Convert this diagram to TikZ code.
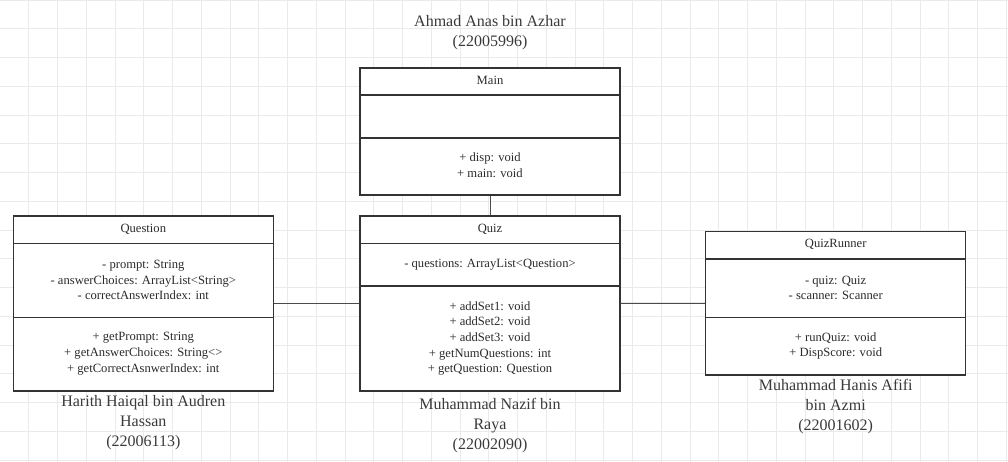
\documentclass[tikz,border=0pt]{standalone}
\usepackage{fontspec}
\setmainfont{Liberation Serif}
\definecolor{gridc}{HTML}{EAEAEA}
\definecolor{boxc}{HTML}{333333}
\definecolor{txtc}{HTML}{2B2B2B}
\definecolor{namec}{HTML}{3A3A3A}
\definecolor{linkc}{HTML}{4A4A4A}
\tikzset{
  umlbox/.style={draw=boxc, line width=1.4pt, fill=white, inner sep=0pt, minimum width=260pt},
  divider/.style={draw=boxc, line width=1.4pt},
  member/.style={text=txtc, align=center, inner sep=0pt, font=\fontsize{12.6}{15.7}\selectfont},
  person/.style={text=namec, align=center, inner sep=0pt, font=\fontsize{16}{20}\selectfont},
  link/.style={draw=linkc, line width=1pt}
}
\begin{document}
\begin{tikzpicture}[x=1pt,y=-1pt]
\useasboundingbox (0,0) rectangle (1008,462);
\fill[white] (0,0) rectangle (1008,462);
\foreach \k in {1,...,35} {\draw[gridc, line width=0.8pt] (\k*28.75,0) -- (\k*28.75,462);}
\foreach \k in {0,...,16} {\draw[gridc, line width=0.8pt] (0,\k*28.75) -- (1008,\k*28.75);}

% boxes
\node[umlbox, minimum height=127pt] (main) at (490,131.5) {};
\node[umlbox, minimum height=175pt] (quiz) at (490,303.5) {};
\node[umlbox, minimum height=175pt] (question) at (143.3,303.5) {};
\node[umlbox, minimum height=143.3pt] (runner) at (835.7,303.3) {};

% connectors
\draw[link] (main.south) -- (quiz.north);
\draw[link] (question.east) -- (quiz.west);
\draw[link] (quiz.east) -- (runner.west);

% dividers
\draw[divider] (main.west |- 0,95) -- (main.east |- 0,95);
\draw[divider] (main.west |- 0,138) -- (main.east |- 0,138);
\draw[divider] (quiz.west |- 0,243.3) -- (quiz.east |- 0,243.3);
\draw[divider] (quiz.west |- 0,286) -- (quiz.east |- 0,286);
\draw[divider] (question.west |- 0,243.3) -- (question.east |- 0,243.3);
\draw[divider] (question.west |- 0,317.3) -- (question.east |- 0,317.3);
\draw[divider] (runner.west |- 0,259) -- (runner.east |- 0,259);
\draw[divider] (runner.west |- 0,317.3) -- (runner.east |- 0,317.3);

% Main texts
\node[member] (mainT) at (490,80.5) {Main};
\node[member] (mainM) at (490,165.5) {+ disp: void\\+ main: void};

% Quiz texts
\node[member] (quizT) at (490,229.5) {Quiz};
\node[member] (quizA) at (490,264.5) {- questions: ArrayList<Question>};
\node[member] (quizM) at (490,338.5) {+ addSet1: void\\+ addSet2: void\\+ addSet3: void\\+ getNumQuestions: int\\+ getQuestion: Question};

% Question texts
\node[member] (qT) at (143.3,229.5) {Question};
\node[member] (qA) at (143.3,280) {- prompt: String\\- answerChoices: ArrayList<String>\\- correctAnswerIndex: int};
\node[member] (qM) at (143.3,353.5) {+ getPrompt: String\\+ getAnswerChoices: String<>\\+ getCorrectAsnwerIndex: int};

% QuizRunner texts
\node[member] (rT) at (835.7,244.8) {QuizRunner};
\node[member] (rA) at (835.7,288) {- quiz: Quiz\\- scanner: Scanner};
\node[member] (rM) at (835.7,346) {+ runQuiz: void\\+ DispScore: void};

% names
\node[person] (n1) at (490,32.5) {Ahmad Anas bin Azhar\\(22005996)};
\node[person] (n2) at (143.3,422.5) {Harith Haiqal bin Audren\\Hassan\\(22006113)};
\node[person] (n3) at (490,426) {Muhammad Nazif bin\\Raya\\(22002090)};
\node[person] (n4) at (835.7,407) {Muhammad Hanis Afifi\\bin Azmi\\(22001602)};
\end{tikzpicture}
\end{document}
